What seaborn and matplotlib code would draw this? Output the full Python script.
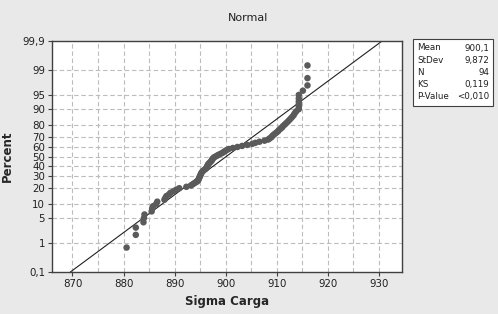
import numpy as np
import pandas as pd
import matplotlib
matplotlib.use("Agg")
import matplotlib.pyplot as plt
import seaborn as sns
from statistics import NormalDist

# ---- data ----
sigma_carga = [
    880.6, 882.4, 882.4, 883.9, 884.0, 884.1, 885.5, 885.6, 885.8, 886.4,
    886.6, 888.0, 888.2, 888.4, 888.9, 889.2, 889.8, 890.3, 890.9, 892.3,
    893.2, 893.6, 894.0, 894.4, 894.6, 894.7, 894.8, 894.9, 895.0, 895.1,
    895.2, 895.3, 895.5, 895.7, 896.0, 896.2, 896.3, 896.4, 896.5, 896.6,
    896.8, 897.0, 897.2, 897.3, 897.4, 897.6, 897.8, 898.2, 898.5, 898.9,
    899.3, 899.6, 899.9, 900.2, 900.6, 901.4, 902.3, 903.2, 904.2, 905.2,
    905.8, 906.6, 907.6, 908.3, 908.6, 908.9, 909.1, 909.3, 909.6, 909.9,
    910.2, 910.4, 910.7, 911.0, 911.2, 911.5, 911.8, 912.1, 912.4, 912.7,
    913.0, 913.3, 913.5, 913.8, 914.3, 914.3, 914.3, 914.3, 914.3, 914.3,
    915.1, 916.0, 916.0, 916.0,
]
fit_mean = 900.1
fit_stdev = 9.872
stat_names = ["Mean", "StDev", "N", "KS", "P-Value"]
stat_values = ["900,1", "9,872", "94", "0,119", "<0,010"]
y_ticks = [0.1, 1, 5, 10, 20, 30, 40, 50, 60, 70, 80, 90, 95, 99, 99.9]
y_tick_labels = ["0,1", "1", "5", "10", "20", "30", "40", "50", "60", "70",
                 "80", "90", "95", "99", "99,9"]
x_ticks = [870, 880, 890, 900, 910, 920, 930]

# plotting positions (median ranks, Minitab style)
n = len(sigma_carga)
ranks = np.arange(1, n + 1)
percent = (ranks - 0.3) / (n + 0.4) * 100
df = pd.DataFrame({"x": sorted(sigma_carga), "p": percent})

nd = NormalDist()
_inv = np.vectorize(lambda q: nd.inv_cdf(q), otypes=[float])
_cdf = np.vectorize(lambda z: nd.cdf(z), otypes=[float])

def fwd(p):
    p = np.clip(np.asarray(p, dtype=float) / 100.0, 1e-9, 1 - 1e-9)
    return _inv(p)

def inv(z):
    return _cdf(np.asarray(z, dtype=float)) * 100.0

# fitted line endpoints in percent
p_lo, p_hi = 0.1, 99.9
fit_df = pd.DataFrame({
    "x": [fit_mean + fit_stdev * nd.inv_cdf(p_lo / 100), fit_mean + fit_stdev * nd.inv_cdf(p_hi / 100)],
    "p": [p_lo, p_hi],
})

sns.set_style("white")
plt.rcParams["font.family"] = ["DejaVu Sans"]

W, H = 498, 314
fig = plt.figure(figsize=(W / 100, H / 100), dpi=100, facecolor="#e9e9e9")
ax = fig.add_axes([52 / W, 1 - 272 / H, 350 / W, 231 / H])
ax.set_facecolor("white")

ax.set_yscale("function", functions=(fwd, inv))
ax.set_xlim(866.0, 934.5)
ax.set_ylim(0.1, 99.9)

# grid
for gx in np.arange(870, 931, 5):
    ax.axvline(gx, color="#bcbcbc", lw=0.8, ls=(0, (4, 2.5)), zorder=0)
for gy in y_ticks[1:-1]:
    ax.axhline(gy, color="#bcbcbc", lw=0.8, ls=(0, (4, 2.5)), zorder=0)

sns.lineplot(data=fit_df, x="x", y="p", ax=ax, color="#202020", lw=0.8, zorder=2)
sns.scatterplot(data=df, x="x", y="p", ax=ax, color="#5a5a5a", s=22,
                edgecolor="none", zorder=3)
ax.set_xlim(866.0, 934.5)
ax.set_ylim(0.1, 99.9)

ax.set_yticks(y_ticks)
ax.set_yticklabels(y_tick_labels)
ax.yaxis.set_minor_locator(matplotlib.ticker.NullLocator())
ax.set_xticks(x_ticks)
ax.set_xticklabels([str(t) for t in x_ticks])
ax.tick_params(axis="both", which="major", labelsize=7.4, length=3, width=0.8,
               color="#404040", labelcolor="#202020", pad=2, direction="out")
ax.tick_params(left=True, bottom=True)

for s in ax.spines.values():
    s.set_visible(True)
    s.set_color("#404040")
    s.set_linewidth(1.0)

ax.set_xlabel("Sigma Carga", fontsize=8.5, fontweight="bold", labelpad=4)
ax.set_ylabel("Percent", fontsize=8.5, fontweight="bold", labelpad=6)

fig.text(248 / W, 1 - 18 / H, "Normal", ha="center", va="center", fontsize=8, color="#202020")

# stats box
bx0, by0, bx1, by1 = 413, 39, 493, 106
fig.patches.append(matplotlib.patches.Rectangle(
    (bx0 / W, 1 - by1 / H), (bx1 - bx0) / W, (by1 - by0) / H,
    transform=fig.transFigure, facecolor="white", edgecolor="#404040", lw=0.8))
for k, (nm, vl) in enumerate(zip(stat_names, stat_values)):
    yy = 1 - (48 + k * 12.2) / H
    fig.text(417 / W, yy, nm, ha="left", va="center", fontsize=6.3, color="#202020")
    fig.text(489 / W, yy, vl, ha="right", va="center", fontsize=6.3, color="#202020")

fig.savefig("out.png", dpi=100, facecolor=fig.get_facecolor())
